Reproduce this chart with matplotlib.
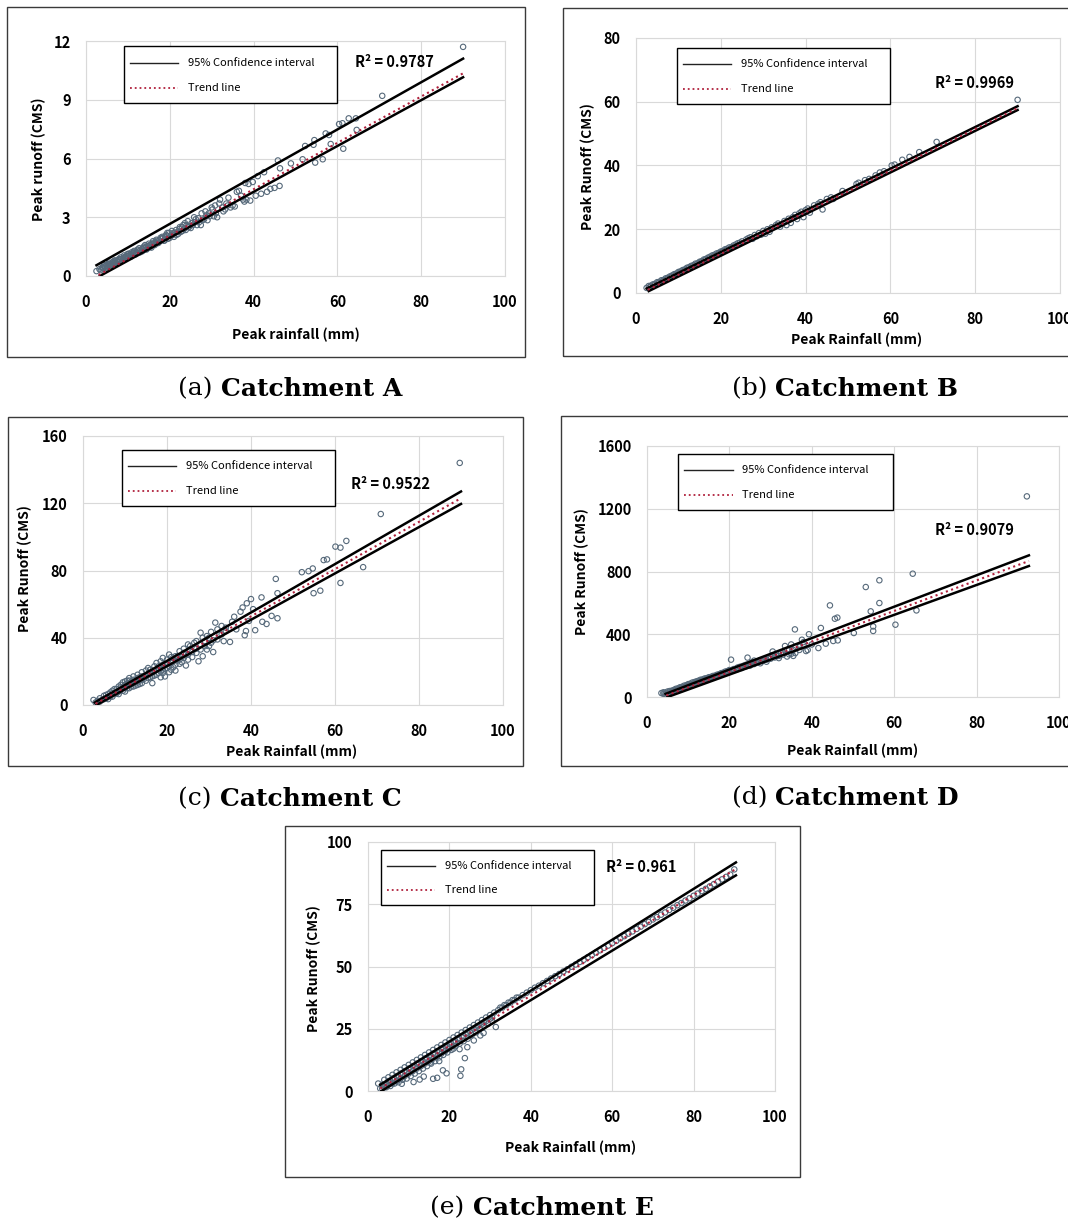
import numpy as np
import matplotlib.pyplot as plt
from matplotlib.patches import Rectangle
from matplotlib.lines import Line2D

# ---- data: (peak rainfall mm, peak runoff CMS) ----
pts_a = [(2.5, 0.25), (3.2, 0.35), (3.8, 0.42), (4.1, 0.38), (4.5, 0.5), (4.9, 0.55), (5.3, 0.5),
         (5.6, 0.6), (6.0, 0.62), (6.3, 0.7), (6.7, 0.66), (7.0, 0.75), (7.4, 0.78), (7.8, 0.8),
         (8.1, 0.85), (8.5, 0.88), (8.9, 0.9), (9.2, 0.97), (9.6, 1.0), (10.0, 1.02), (10.4, 1.08),
         (10.8, 1.1), (11.2, 1.15), (11.6, 1.2), (12.0, 1.22), (12.5, 1.3), (13.0, 1.32), (13.4, 1.4),
         (13.9, 1.42), (14.3, 1.5), (14.8, 1.52), (15.2, 1.58), (15.7, 1.62), (16.1, 1.7), (16.6, 1.72),
         (17.0, 1.8), (17.5, 1.82), (18.0, 1.9), (18.4, 1.95), (18.9, 2.0), (19.3, 2.05), (19.8, 2.2),
         (20.2, 2.05), (20.7, 2.1), (21.2, 2.2), (21.8, 2.25), (22.3, 2.4), (22.9, 2.5), (23.4, 2.4),
         (24.0, 2.6), (24.6, 2.5), (25.2, 2.7), (25.8, 3.0), (26.5, 2.6), (27.0, 2.75), (27.6, 3.2),
         (28.2, 2.9), (28.8, 3.1), (29.5, 3.05), (30.2, 3.4), (30.8, 3.6), (31.3, 3.0), (31.8, 3.7),
         (32.5, 3.5), (33.2, 3.4), (33.8, 3.6), (34.5, 3.5), (35.5, 3.55), (36.0, 4.3), (37.0, 4.1),
         (37.8, 3.8), (38.3, 3.9), (38.8, 4.7), (39.2, 3.85), (39.8, 4.8), (40.5, 4.1), (41.0, 5.1),
         (41.8, 4.2), (42.5, 5.3), (43.2, 4.3), (44.0, 4.45), (45.0, 4.5), (45.8, 5.9), (46.3, 5.5),
         (46.2, 4.6), (48.9, 5.75), (51.7, 5.96), (52.3, 6.64), (54.3, 6.7), (54.7, 5.79), (54.5, 6.94),
         (56.5, 5.96), (57.2, 7.28), (58.0, 7.2), (58.4, 6.74), (60.4, 7.76), (61.2, 7.8), (61.4, 6.5),
         (62.7, 8.05), (64.4, 8.05), (64.6, 7.46), (70.7, 9.2), (90.0, 11.7),
         (4.0, 0.45), (4.6, 0.42), (5.2, 0.6), (5.8, 0.55), (6.4, 0.62), (6.9, 0.8), (7.6, 0.72),
         (8.3, 0.95), (8.8, 0.82), (9.4, 0.9), (9.9, 1.12), (10.6, 0.98), (11.0, 1.22), (11.8, 1.1),
         (12.3, 1.35), (12.8, 1.2), (13.6, 1.3), (14.1, 1.58), (14.6, 1.4), (15.4, 1.5), (16.0, 1.78),
         (16.4, 1.58), (17.2, 1.68), (17.8, 1.95), (18.6, 1.8), (19.1, 2.1), (19.6, 1.9), (20.5, 2.3),
         (21.0, 2.0), (21.5, 2.35), (22.0, 2.15), (22.6, 2.25), (23.2, 2.6), (23.8, 2.35), (24.3, 2.8),
         (25.0, 2.45), (26.0, 2.75), (26.8, 2.95), (27.4, 2.6), (28.5, 3.3), (29.0, 2.85), (30.0, 3.5),
         (30.5, 3.05), (32.0, 3.9), (32.8, 3.3), (34.0, 4.0), (35.0, 3.6), (36.5, 4.35), (37.5, 3.9),
         (38.0, 4.75)]
band_a = [(3.5, 0.3), (4.3, 0.55), (5.0, 0.45), (5.5, 0.68), (6.1, 0.55), (6.6, 0.75), (7.2, 0.65),
          (7.9, 0.88), (8.6, 0.78), (9.1, 1.05), (9.8, 0.92), (10.3, 1.15), (10.9, 1.02), (11.5, 1.28),
          (12.1, 1.15), (12.7, 1.42), (13.3, 1.25), (13.8, 1.5), (14.4, 1.35), (15.0, 1.65), (15.6, 1.45),
          (16.2, 1.62), (16.8, 1.85), (17.4, 1.72), (18.2, 2.0), (18.8, 1.82), (19.4, 2.2), (20.0, 1.95),
          (20.8, 2.2), (21.6, 2.1), (22.4, 2.5), (23.0, 2.3), (23.6, 2.7), (24.4, 2.5), (25.5, 2.6),
          (26.2, 2.9), (27.8, 2.85), (29.3, 3.2), (31.0, 3.2), (33.5, 3.7)]

pts_b = [(2.5, 1.6), (3.0, 2.2), (3.5, 2.3), (4.0, 2.7), (4.5, 2.9), (5.0, 3.4), (5.5, 3.5), (6.0, 4.0),
         (6.5, 4.1), (7.0, 4.6), (7.5, 4.8), (8.0, 5.2), (8.5, 5.5), (9.0, 5.9), (9.5, 6.1), (10.0, 6.6),
         (10.5, 6.8), (11.0, 7.2), (11.5, 7.4), (12.0, 7.9), (12.5, 8.1), (13.0, 8.5), (13.5, 8.7),
         (14.0, 9.2), (14.5, 9.3), (15.0, 9.8), (15.5, 10.0), (16.0, 10.5), (16.5, 10.7), (17.0, 11.1),
         (17.5, 11.4), (18.0, 11.8), (18.5, 12.0), (19.0, 12.4), (19.5, 12.6), (20.0, 13.0), (20.5, 13.2),
         (21.0, 13.7), (21.5, 13.9), (22.0, 14.3), (23.0, 14.9), (23.5, 15.2), (24.0, 15.6), (25.0, 16.2),
         (26.0, 16.8), (27.0, 17.5), (27.5, 17.0), (28.0, 18.2), (28.5, 17.8), (29.0, 18.8), (29.5, 18.3),
         (30.0, 19.5), (30.5, 18.6), (31.0, 20.0), (31.5, 19.2), (32.0, 20.6), (33.0, 21.3), (33.5, 21.8),
         (34.0, 20.8), (35.0, 22.6), (35.5, 21.3), (36.0, 23.3), (36.5, 22.0), (37.0, 23.8), (37.5, 24.5),
         (38.0, 23.2), (38.5, 25.0), (39.0, 25.5), (39.5, 23.8), (40.0, 26.0), (40.5, 26.5), (41.0, 25.2),
         (42.0, 27.5), (43.0, 28.0), (43.5, 28.5), (44.0, 26.2), (45.0, 29.5), (46.0, 30.0), (46.5, 29.5),
         (48.7, 32.0), (52.0, 34.2), (52.5, 34.6), (54.0, 35.4), (55.0, 35.8), (56.5, 36.9), (57.5, 37.8),
         (58.5, 38.2), (60.3, 40.0), (61.0, 40.3), (62.8, 41.8), (64.5, 42.7), (66.8, 44.2), (70.9, 47.4),
         (90.0, 60.6)]
band_b = [(3.2, 1.8), (4.2, 2.4), (5.2, 3.1), (6.2, 3.7), (7.2, 4.4), (8.2, 5.0), (9.2, 5.6), (10.2, 6.3),
          (11.2, 6.9), (12.2, 7.6), (13.2, 8.2), (14.2, 8.9), (15.2, 9.5), (16.2, 10.2), (17.2, 10.8),
          (18.2, 11.5), (19.2, 12.1), (20.2, 12.8), (21.2, 13.4), (22.5, 14.4), (24.5, 15.8), (26.5, 17.2)]

pts_c = [(2.5, 3.0), (3.5, 2.5), (4.0, 4.0), (4.5, 3.0), (5.0, 5.5), (5.5, 4.0), (6.0, 6.5), (6.0, 3.5),
         (6.5, 7.5), (7.0, 5.0), (7.0, 8.5), (7.5, 6.5), (8.0, 9.5), (8.0, 7.0), (8.5, 11.0), (8.5, 8.0),
         (9.0, 12.0), (9.0, 9.0), (9.5, 10.5), (9.5, 13.5), (10.0, 8.0), (10.0, 12.0), (10.5, 14.5),
         (10.5, 10.0), (11.0, 12.5), (11.0, 16.0), (11.5, 11.0), (11.5, 14.0), (12.0, 17.0), (12.0, 13.0),
         (12.5, 15.0), (12.5, 11.5), (13.0, 18.0), (13.0, 14.0), (13.5, 16.5), (13.5, 12.5), (14.0, 19.5),
         (14.0, 15.0), (14.5, 17.0), (15.0, 20.5), (15.0, 14.5), (15.5, 18.5), (15.5, 22.0), (16.0, 16.5),
         (16.0, 21.0), (16.5, 19.5), (16.5, 13.0), (17.0, 23.0), (17.0, 17.5), (17.5, 21.0), (17.5, 25.0),
         (18.0, 19.0), (18.0, 23.0), (18.5, 16.5), (18.5, 26.0), (19.0, 21.0), (19.0, 28.0), (19.5, 24.0),
         (19.5, 17.0), (20.0, 27.0), (20.0, 22.0), (20.5, 30.0), (20.5, 19.5), (21.0, 25.0), (21.0, 28.5),
         (21.5, 22.5), (22.0, 29.0), (22.0, 20.5), (22.5, 26.5), (23.0, 32.0), (23.0, 24.5), (23.5, 28.5),
         (24.0, 33.5), (24.0, 31.0), (24.5, 23.5), (25.0, 36.0), (25.0, 30.0), (25.5, 32.5), (26.0, 28.5),
         (26.5, 34.0), (27.0, 38.0), (27.0, 31.0), (27.5, 26.0), (28.0, 43.0), (28.0, 36.0), (28.5, 29.0),
         (29.0, 38.0), (29.5, 41.0), (30.0, 35.0), (30.5, 43.5), (31.0, 31.5), (31.0, 38.5), (31.5, 49.0),
         (32.0, 45.0), (32.5, 42.0), (33.0, 47.0), (33.5, 38.0), (34.0, 44.0), (35.0, 37.5), (35.5, 49.5),
         (36.0, 52.5), (36.5, 45.0), (37.5, 55.5), (38.0, 58.0), (38.5, 41.5), (38.8, 44.0), (39.0, 60.5),
         (39.5, 50.0), (40.0, 63.0), (40.5, 57.0), (41.0, 44.5), (42.5, 64.0), (42.7, 49.5), (43.7, 48.2),
         (44.9, 53.0), (45.9, 75.0), (46.3, 66.5), (46.3, 51.6), (52.1, 79.0), (53.7, 79.6), (54.7, 81.2),
         (54.9, 66.5), (56.5, 68.0), (57.3, 86.2), (58.1, 86.6), (60.1, 94.2), (61.3, 93.6), (61.3, 72.6),
         (62.7, 97.6), (66.7, 82.0), (70.9, 113.6), (89.7, 144.0)]
band_c = [(3.0, 1.5), (4.0, 2.0), (5.0, 3.5), (5.5, 6.0), (6.5, 5.0), (7.0, 7.0), (7.5, 9.5), (8.0, 8.0),
          (8.5, 6.5), (9.0, 10.5), (9.5, 8.5), (10.0, 10.0), (10.0, 14.0), (10.5, 12.5), (11.0, 10.0),
          (11.0, 14.5), (11.5, 12.5), (12.0, 11.0), (12.0, 15.0), (12.5, 13.5), (13.0, 12.0), (13.0, 16.0),
          (13.5, 14.5), (14.0, 13.0), (14.0, 17.0), (14.5, 15.5), (15.0, 17.0), (15.5, 16.0), (16.0, 19.0),
          (16.5, 17.0), (17.0, 20.0), (17.5, 18.0), (18.0, 21.0), (18.5, 20.0), (19.0, 19.0), (19.0, 24.0),
          (19.5, 21.5), (20.0, 24.5), (20.5, 23.0), (21.0, 21.0), (21.5, 26.0), (22.0, 24.0), (22.5, 29.0),
          (23.0, 27.0), (23.5, 25.5), (24.0, 28.0), (24.5, 30.0), (25.0, 27.0), (25.5, 35.0), (26.0, 31.5),
          (26.5, 37.0), (27.0, 33.5), (28.0, 33.0), (28.5, 40.0), (29.0, 35.0), (29.5, 33.0), (30.0, 40.0),
          (30.5, 37.0), (32.0, 39.0), (33.0, 42.0), (34.0, 46.0)]

pts_d = [(3.5, 25), (4.0, 20), (4.0, 30), (4.5, 28), (5.0, 22), (5.0, 35), (5.5, 30), (6.0, 40), (6.0, 33),
         (6.5, 45), (7.0, 42), (7.0, 52), (7.5, 55), (8.0, 52), (8.0, 62), (8.5, 65), (9.0, 62), (9.0, 72),
         (9.5, 75), (10.0, 72), (10.0, 82), (10.5, 85), (11.0, 82), (11.0, 92), (11.5, 95), (12.0, 92),
         (12.0, 100), (12.5, 104), (13.0, 100), (13.0, 110), (13.5, 112), (14.0, 110), (14.0, 118),
         (14.5, 120), (15.0, 118), (15.0, 126), (15.5, 128), (16.0, 126), (16.0, 134), (16.5, 136),
         (17.0, 135), (17.0, 142), (17.5, 145), (18.0, 143), (18.0, 152), (18.5, 155), (19.0, 152),
         (19.0, 162), (19.5, 165), (20.0, 160), (20.0, 172), (20.4, 238), (21.0, 170), (21.5, 180),
         (22.0, 178), (22.5, 192), (23.0, 185), (23.5, 200), (24.0, 195), (24.4, 251), (24.5, 208),
         (25.0, 200), (25.5, 222), (26.0, 210), (26.0, 232), (27.0, 222), (27.5, 235), (28.0, 228),
         (29.0, 238), (29.5, 250), (30.0, 244), (30.5, 265), (30.5, 290), (31.0, 252), (32.0, 262),
         (32.5, 280), (33.0, 270), (33.5, 325), (34.0, 258), (34.5, 300), (35.0, 275), (35.0, 335),
         (35.5, 262), (35.9, 431), (36.0, 320), (37.0, 300), (37.6, 365), (38.0, 350), (38.6, 293),
         (39.0, 300), (39.3, 400), (40.0, 335), (41.6, 312), (42.2, 440), (43.4, 340), (44.4, 584),
         (45.2, 357), (45.6, 499), (46.2, 506), (46.3, 361), (50.2, 408), (53.1, 701), (54.3, 546),
         (54.9, 450), (54.9, 421), (56.4, 744), (56.4, 599), (60.3, 461), (64.5, 786), (65.4, 552),
         (92.2, 1279)]
band_d = [(4.5, 18), (5.5, 38), (6.5, 36), (7.5, 48), (8.5, 58), (9.5, 68), (10.5, 78), (11.5, 88),
          (12.5, 96), (13.5, 105), (14.5, 114), (15.5, 122), (16.5, 130), (17.5, 138), (18.5, 148),
          (19.5, 158), (21.0, 178), (22.0, 188), (23.0, 195), (24.0, 205), (25.0, 212), (26.5, 220),
          (28.5, 240), (30.0, 255), (31.5, 262), (33.0, 282), (34.5, 272), (36.0, 280), (37.0, 320),
          (38.0, 330), (29.0, 225), (27.5, 215), (32.0, 248), (34.0, 300), (35.5, 300)]

pts_e = [(2.5, 3.0), (3.0, 1.0), (3.5, 2.5), (4.0, 4.5), (4.0, 1.5), (4.5, 3.0), (5.0, 5.5), (5.0, 2.5),
         (5.5, 4.0), (6.0, 6.5), (6.0, 3.0), (6.5, 5.0), (7.0, 7.5), (7.0, 4.0), (7.5, 6.0), (8.0, 8.5),
         (8.0, 5.0), (8.3, 2.9), (8.5, 7.0), (9.0, 9.5), (9.0, 6.0), (9.5, 8.0), (10.0, 10.5), (10.0, 7.0),
         (10.5, 9.0), (11.0, 11.5), (11.0, 8.0), (11.2, 3.6), (11.5, 10.0), (12.0, 12.5), (12.0, 9.0),
         (12.5, 11.0), (12.7, 4.6), (13.0, 13.5), (13.0, 10.0), (13.5, 12.0), (13.7, 5.8), (14.0, 14.5),
         (14.0, 11.0), (14.5, 13.0), (15.0, 15.5), (15.0, 12.0), (15.3, 11.4), (15.5, 14.0), (16.0, 16.5),
         (16.0, 4.9), (16.0, 13.0), (16.5, 15.0), (17.0, 17.5), (17.0, 5.3), (17.0, 14.0), (17.5, 12.0),
         (17.5, 16.0), (18.0, 18.5), (18.0, 15.0), (18.4, 8.3), (18.5, 17.0), (19.0, 19.5), (19.0, 16.0),
         (19.3, 7.1), (19.5, 18.0), (20.0, 20.5), (20.0, 17.0), (20.5, 19.0), (21.0, 21.5), (21.0, 17.0),
         (21.5, 20.0), (22.0, 22.5), (22.5, 16.8), (22.5, 21.0), (22.7, 6.1), (22.9, 8.7), (23.0, 23.5),
         (23.5, 22.0), (23.8, 13.2), (24.0, 24.5), (24.4, 17.6), (24.5, 23.5), (25.0, 25.5), (25.5, 24.5),
         (26.0, 26.5), (26.0, 20.3), (26.5, 25.5), (27.0, 27.5), (27.6, 22.3), (28.0, 28.5), (28.4, 23.3),
         (28.5, 27.5), (29.0, 29.5), (30.0, 30.5), (30.5, 29.5), (31.0, 31.5), (31.4, 25.7), (32.0, 32.5),
         (33.0, 33.5), (34.0, 34.5), (35.0, 35.5), (36.0, 36.5), (37.0, 37.5), (38.0, 38.5), (39.0, 39.5),
         (40.0, 40.5), (41.0, 41.5), (42.0, 42.3), (43.0, 43.3), (44.0, 44.2), (45.0, 45.2), (46.0, 46.1),
         (47.0, 47.0), (48.0, 48.0), (49.0, 48.9), (50.0, 49.9), (51.0, 50.8), (52.0, 51.8), (53.0, 52.7),
         (54.0, 53.7), (55.0, 54.6), (56.0, 55.6), (57.0, 56.5), (58.0, 57.5), (59.0, 58.4), (60.0, 59.4),
         (61.0, 60.3), (62.0, 61.3), (63.0, 62.2), (64.0, 63.2), (65.0, 64.1), (66.0, 65.1), (67.0, 66.0),
         (68.0, 67.0), (69.0, 67.9), (70.0, 68.9), (71.0, 69.8), (72.0, 70.8), (73.0, 71.7), (74.0, 72.7),
         (75.0, 73.6), (76.0, 74.6), (77.0, 75.5), (78.0, 76.5), (79.0, 77.4), (80.0, 78.4), (81.0, 79.3),
         (82.0, 80.3), (83.0, 81.2), (84.0, 82.2), (85.0, 83.1), (86.0, 84.1), (87.0, 85.0), (88.0, 86.0),
         (89.0, 86.9), (90.0, 89.0)]
band_e = [(3.5, 1.0), (4.5, 1.5), (5.5, 2.0), (6.5, 3.0), (7.5, 3.5), (8.5, 4.5), (9.5, 5.0), (10.5, 6.0),
          (11.5, 7.0), (12.5, 8.0), (13.5, 9.0), (14.5, 10.0), (15.5, 11.0), (16.5, 12.0), (17.5, 13.5),
          (18.5, 14.5), (19.5, 15.5), (20.5, 16.5), (21.5, 18.0), (22.5, 19.0), (23.5, 20.0), (24.5, 21.0),
          (25.5, 22.5), (26.5, 23.5), (27.5, 25.0), (28.5, 26.0), (29.5, 27.0), (30.5, 28.0), (5.0, 4.0),
          (6.0, 5.0), (7.0, 6.0), (8.0, 7.0), (9.0, 8.0), (10.0, 9.0), (11.0, 10.0), (12.0, 11.0),
          (13.0, 12.0), (14.0, 13.0), (15.0, 14.0), (16.0, 15.0), (17.0, 16.0), (18.0, 17.0), (19.0, 18.0),
          (20.0, 19.0), (21.0, 20.0), (22.0, 21.0), (23.0, 22.0), (24.0, 23.0), (25.0, 24.0), (26.0, 25.0),
          (27.0, 26.0), (28.0, 27.0), (29.0, 28.0), (30.0, 29.0), (32.5, 33.5), (33.5, 34.5), (34.5, 35.5),
          (35.5, 36.5), (36.5, 37.5)]

# confidence interval bounds and trend line: (x_start, x_end), (y_start, y_end)
upper_a, lower_a, trend_a = ([2.5, 90], [0.55, 11.1]), ([3.3, 90], [0.0, 10.15]), ([3.0, 90], [0.05, 10.35])
upper_b, lower_b, trend_b = ([2.5, 90], [1.4, 58.6]), ([3.0, 90], [0.6, 57.4]), ([2.8, 90], [1.0, 58.0])
upper_c, lower_c, trend_c = ([2.8, 90], [1.5, 127.0]), ([3.2, 90], [0.0, 119.6]), ([3.0, 90], [0.7, 123.0])
upper_d, lower_d, trend_d = ([4.5, 92.7], [20, 903]), ([5.0, 92.7], [0, 835]), ([4.7, 92.7], [10, 867])
upper_e, lower_e, trend_e = ([3.0, 90.4], [2.5, 91.8]), ([3.3, 90.4], [0.0, 86.6]), ([3.0, 90.4], [1.0, 89.2])

r2_values = ["0.9787", "0.9969", "0.9522", "0.9079", "0.961"]
y_ticks = [[0, 3, 6, 9, 12], [0, 20, 40, 60, 80], [0, 40, 80, 120, 160],
           [0, 400, 800, 1200, 1600], [0, 25, 50, 75, 100]]
x_ticks = [0, 20, 40, 60, 80, 100]
x_titles = ["Peak rainfall (mm)"] + ["Peak Rainfall (mm)"] * 4
y_titles = ["Peak runoff (CMS)"] + ["Peak Runoff (CMS)"] * 4
tags = ["(a)", "(b)", "(c)", "(d)", "(e)"]
names = ["Catchment A", "Catchment B", "Catchment C", "Catchment D", "Catchment E"]

# ---- layout, in pixels of the 1068x1221 image ----
W, H = 1068, 1221
# axes box, outer frame, x-title centre, y-title centre, legend box, caption centre, R2 (data coords)
layout = [
    dict(ax=(86, 41, 505, 276), frame=(7, 7, 525, 357), xt=(296, 335), yt=(39, 159),
         leg=(124, 46, 337, 103), cap=(290, 389), r2=(64.3, 10.93)),
    dict(ax=(636, 38, 1060, 293), frame=(563, 8, 1080, 356), xt=(857, 340), yt=(588, 167),
         leg=(677, 48, 890, 104), cap=(845, 389), r2=(70.5, 65.9)),
    dict(ax=(83, 436, 503, 705), frame=(8, 417, 523, 766), xt=(292, 752), yt=(25, 569),
         leg=(122, 450, 335, 506), cap=(290, 799), r2=(63.7, 131.5)),
    dict(ax=(647, 446, 1059, 697), frame=(561, 416, 1080, 766), xt=(853, 751), yt=(582, 572),
         leg=(678, 454, 893, 510), cap=(845, 798), r2=(69.9, 1064)),
    dict(ax=(368, 842, 775, 1091), frame=(285, 826, 800, 1177), xt=(571, 1148), yt=(314, 969),
         leg=(381, 850, 594, 905), cap=(542, 1208), r2=(58.5, 90.0)),
]

SANS = ['Noto Sans CJK KR', 'DejaVu Sans']
SERIF = 'DejaVu Serif'
GRID = '#d9d9d9'
PT_EDGE = '#56697a'
TREND = '#b0203c'

fig = plt.figure(figsize=(W / 100, H / 100), dpi=100)


def fx(px):
    return px / W


def fy(py):
    return 1 - py / H


panels = [
    (pts_a + band_a, upper_a, lower_a, trend_a),
    (pts_b + band_b, upper_b, lower_b, trend_b),
    (pts_c + band_c, upper_c, lower_c, trend_c),
    (pts_d + band_d, upper_d, lower_d, trend_d),
    (pts_e + band_e, upper_e, lower_e, trend_e),
]

for i, (pts, up, lo, tr) in enumerate(panels):
    L = layout[i]
    x0, y0, x1, y1 = L['ax']

    # outer frame around each sub-figure
    f0, g0, f1, g1 = L['frame']
    fig.patches.append(Rectangle((fx(f0), fy(g1)), (f1 - f0) / W, (g1 - g0) / H,
                                 transform=fig.transFigure, fill=False,
                                 edgecolor='#3a3a3a', lw=1.0))

    ax = fig.add_axes([fx(x0), fy(y1), (x1 - x0) / W, (y1 - y0) / H])
    rain, runoff = np.array(pts).T
    ax.scatter(rain, runoff, s=15, facecolors='none', edgecolors=PT_EDGE,
               linewidths=0.8, zorder=2)
    ax.plot(*up, color='black', lw=1.8, zorder=3)
    ax.plot(*lo, color='black', lw=1.8, zorder=3)
    ax.plot(*tr, color=TREND, lw=1.5, ls=':', zorder=4)

    ax.set_xlim(0, 100)
    ax.set_ylim(y_ticks[i][0], y_ticks[i][-1])
    ax.set_xticks(x_ticks)
    ax.set_yticks(y_ticks[i])
    ax.grid(True, color=GRID, lw=0.8)
    ax.set_axisbelow(True)
    for s in ax.spines.values():
        s.set_color(GRID)
        s.set_linewidth(0.8)
    ax.tick_params(length=0, labelsize=10.5)
    ax.tick_params(axis='x', pad=13)
    ax.tick_params(axis='y', pad=11)
    for lab in ax.get_xticklabels() + ax.get_yticklabels():
        lab.set_family(SANS)
        lab.set_fontweight('bold')

    ax.set_xlabel(x_titles[i], family=SANS, fontweight='bold', fontsize=10)
    ax.set_ylabel(y_titles[i], family=SANS, fontweight='bold', fontsize=10)
    ax.xaxis.set_label_coords((L['xt'][0] - x0) / (x1 - x0), (y1 - L['xt'][1]) / (y1 - y0))
    ax.yaxis.set_label_coords((L['yt'][0] - x0) / (x1 - x0), (y1 - L['yt'][1]) / (y1 - y0))
    ax.xaxis.label.set_va('center')
    ax.yaxis.label.set_va('center')

    ax.text(L['r2'][0], L['r2'][1], "R² = " + r2_values[i], family=SANS,
            fontweight='bold', fontsize=10.5, va='center', ha='left', zorder=5)

    # legend box drawn in figure pixels
    lx0, ly0, lx1, ly1 = L['leg']
    lw_, lh_ = lx1 - lx0, ly1 - ly0
    fig.patches.append(Rectangle((fx(lx0), fy(ly1)), lw_ / W, lh_ / H,
                                 transform=fig.transFigure, facecolor='white',
                                 edgecolor='black', lw=1.0, zorder=5))
    hx0, hx1, tx = lx0 + 0.026 * lw_, lx0 + 0.255 * lw_, lx0 + 0.30 * lw_
    r1, r2 = ly0 + 0.29 * lh_, ly0 + 0.73 * lh_
    fig.lines.append(Line2D([fx(hx0), fx(hx1)], [fy(r1), fy(r1)], transform=fig.transFigure,
                            color='#222222', lw=1.0, zorder=6))
    fig.lines.append(Line2D([fx(hx0), fx(hx1)], [fy(r2), fy(r2)], transform=fig.transFigure,
                            color=TREND, lw=1.3, ls=':', zorder=6))
    fig.text(fx(tx), fy(r1), "95% Confidence interval", family=SANS, fontsize=8,
             va='center', ha='left', zorder=6)
    fig.text(fx(tx), fy(r2), "Trend line", family=SANS, fontsize=8,
             va='center', ha='left', zorder=6)

# captions: regular tag + bold name, centred together
renderer = fig.canvas.get_renderer()
for i in range(5):
    cx, cy = layout[i]['cap']
    t1 = fig.text(0, fy(cy), tags[i], family=SERIF, fontsize=18, va='center', ha='left')
    t2 = fig.text(0, fy(cy), names[i], family=SERIF, fontsize=18, fontweight='bold',
                  va='center', ha='left')
    w1 = t1.get_window_extent(renderer).width
    w2 = t2.get_window_extent(renderer).width
    gap = 8
    left = cx - (w1 + gap + w2) / 2
    t1.set_x(fx(left))
    t2.set_x(fx(left + w1 + gap))

fig.savefig('out.png', dpi=100, facecolor='white')
